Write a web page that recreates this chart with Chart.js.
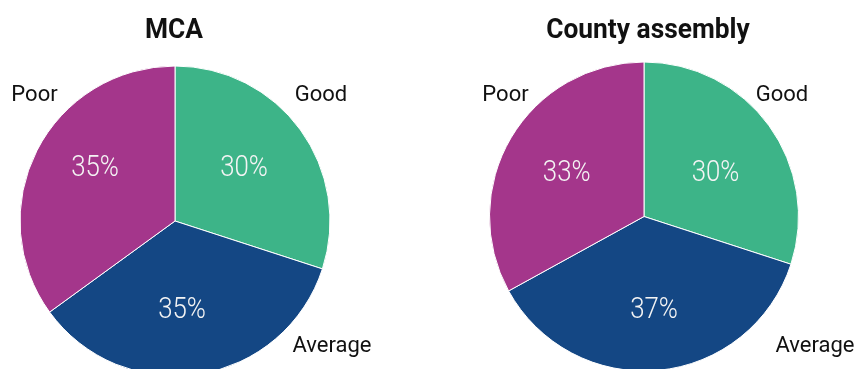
<!DOCTYPE html>
<html>
<head>
<meta charset="utf-8">
<script src="https://cdn.jsdelivr.net/npm/chart.js@4.4.1/dist/chart.umd.min.js"></script>
<style>
  html, body { margin: 0; padding: 0; background: #fff; overflow: hidden; }
  #wrap { position: relative; width: 858px; height: 369px; overflow: hidden; }
  #wrap canvas { position: absolute; top: 0; }
</style>
</head>
<body>
<div id="wrap">
  <canvas id="mca" width="429" height="390" style="left:0"></canvas>
  <canvas id="county" width="429" height="390" style="left:429px"></canvas>
</div>
<script>
const categories = ['Good', 'Average', 'Poor'];
const mcaValues = [30, 35, 35];
const countyValues = [30, 37, 33];
const sliceColors = ['#3db488', '#144784', '#a4368b'];

// draws centred text, optionally squeezed sideways (the picture uses a condensed face)
function putText(ctx, text, x, y, font, color, squeeze) {
  ctx.save();
  ctx.font = font;
  ctx.fillStyle = color;
  ctx.textAlign = 'center';
  ctx.textBaseline = 'alphabetic';
  ctx.translate(x, y);
  ctx.scale(squeeze, 1);
  ctx.fillText(text, 0, 0);
  ctx.restore();
}

const pieText = {
  id: 'pieText',
  afterDatasetsDraw(chart, args, opts) {
    const ctx = chart.ctx;
    const values = chart.data.datasets[0].data;
    const first = chart.getDatasetMeta(0).data[0];
    const cx = first.x, cy = first.y;

    values.forEach((v, i) => {
      const p = opts.valuePos[i];
      putText(ctx, v + '%', cx + p[0], cy + p[1] + 11, '300 30px Roboto', '#f4f4f4', 0.86);
    });

    putText(ctx, opts.title, cx + opts.titleDx, opts.titleY, 'bold 28px Roboto', '#111', 0.94);

    chart.data.labels.forEach((lab, i) => {
      const p = opts.labelPos[i];
      putText(ctx, lab, cx + p[0], cy + p[1], '22px Roboto', '#111', 1);
    });
  }
};

function makePie(id, values, title, padding, extra) {
  return new Chart(document.getElementById(id), {
    type: 'pie',
    data: {
      labels: categories,
      datasets: [{
        data: values,
        backgroundColor: sliceColors,
        borderColor: '#ffffff',
        borderWidth: 1
      }]
    },
    options: {
      responsive: false,
      animation: false,
      layout: { padding: padding },
      plugins: {
        legend: { display: false },
        tooltip: { enabled: false },
        pieText: Object.assign({ title: title }, extra)
      }
    },
    plugins: [pieText]
  });
}

makePie('mca', mcaValues, 'MCA',
  { left: 19.5, right: 98.5, top: 65.5, bottom: 13.5 },
  {
    titleDx: -1, titleY: 37.5,
    valuePos: [[69, -56], [7, 86], [-80, -56]],
    labelPos: [[146, -120], [157, 131], [-140.5, -120]]
  });

makePie('county', countyValues, 'County assembly',
  { left: 60, right: 59, top: 61.5, bottom: 18.5 },
  {
    titleDx: 4, titleY: 37.5,
    valuePos: [[71.5, -46.5], [10, 90.5], [-77.3, -46.5]],
    labelPos: [[138, -115.5], [171, 135.5], [-138.5, -115.5]]
  });
</script>
</body>
</html>
